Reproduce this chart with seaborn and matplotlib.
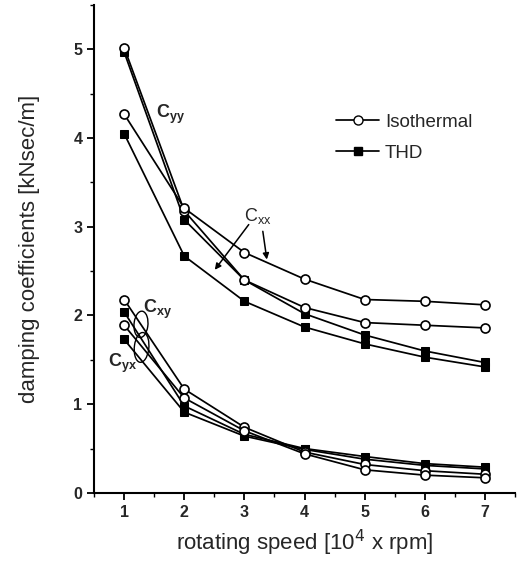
import matplotlib
matplotlib.use("Agg")
import matplotlib.pyplot as plt
import seaborn as sns
import numpy as np
import pandas as pd
from matplotlib.lines import Line2D
from matplotlib.patches import Ellipse

sns.set_theme(style="ticks")
plt.rcParams['font.family'] = ['Liberation Sans', 'DejaVu Sans']

speed = [1, 2, 3, 4, 5, 6, 7]

cyy_iso = [5.02, 3.18, 2.40, 2.09, 1.92, 1.89, 1.86]
cyy_thd = [4.97, 3.08, 2.40, 2.02, 1.78, 1.60, 1.47]
cxx_iso = [4.27, 3.21, 2.71, 2.41, 2.18, 2.16, 2.12]
cxx_thd = [4.05, 2.67, 2.16, 1.87, 1.68, 1.53, 1.42]
cxy_iso = [2.18, 1.17, 0.74, 0.46, 0.32, 0.25, 0.21]
cxy_thd = [2.04, 0.98, 0.66, 0.50, 0.41, 0.33, 0.29]
cyx_iso = [1.89, 1.07, 0.70, 0.44, 0.26, 0.20, 0.17]
cyx_thd = [1.73, 0.91, 0.64, 0.49, 0.38, 0.31, 0.27]

iso_series = [cyy_iso, cxx_iso, cxy_iso, cyx_iso]
thd_series = [cyy_thd, cxx_thd, cxy_thd, cyx_thd]

fig = plt.figure(figsize=(5.17, 5.62), dpi=100)
ax = fig.add_axes([0.182, 0.123, 0.814, 0.868])

for vals in thd_series:
    sns.lineplot(x=speed, y=vals, ax=ax, color='black', lw=1.25,
                 marker='s', markersize=5.5, markerfacecolor='black',
                 markeredgecolor='black', zorder=2)
for vals in iso_series:
    sns.lineplot(x=speed, y=vals, ax=ax, color='black', lw=1.25,
                 marker='o', markersize=6.5, markerfacecolor='white',
                 markeredgecolor='black', markeredgewidth=1.2, zorder=3)

ax.set_xlim(0.5, 7.5)
ax.set_ylim(0, 5.5)
ax.set_xticks([1, 2, 3, 4, 5, 6, 7])
ax.set_xticks(np.arange(0.5, 7.6, 0.5), minor=True)
ax.set_yticks([0, 1, 2, 3, 4, 5])
ax.set_yticks(np.arange(0, 5.6, 0.5), minor=True)
ax.tick_params(axis='both', which='major', direction='out', length=5, width=1.3,
               labelsize=11.5, color='black')
ax.tick_params(axis='both', which='minor', direction='out', length=3, width=1.0, color='black')
for lab in ax.get_xticklabels() + ax.get_yticklabels():
    lab.set_fontweight('bold')
sns.despine(ax=ax)
for sp in ['left', 'bottom']:
    ax.spines[sp].set_linewidth(1.5)
    ax.spines[sp].set_color('black')

ax.set_xlabel('rotating speed [10$^4$ x rpm]', fontsize=16, labelpad=6)
ax.set_ylabel('damping coefficients [kNsec/m]', fontsize=16, labelpad=24)

# annotations
ax.text(1.77, 4.27, r'C$_{\mathregular{yy}}$', fontsize=13, fontweight='bold', ha='center', va='center')
ax.text(3.22, 3.12, r'C$_{\mathregular{xx}}$', fontsize=13, ha='center', va='center')
ax.annotate('', xy=(2.48, 2.49), xytext=(3.1, 3.05),
            arrowprops=dict(arrowstyle='-|>', color='black', lw=1.1, mutation_scale=9))
ax.annotate('', xy=(3.38, 2.6), xytext=(3.3, 2.98),
            arrowprops=dict(arrowstyle='-|>', color='black', lw=1.1, mutation_scale=9))
ax.text(1.55, 2.07, r'C$_{\mathregular{xy}}$', fontsize=13, fontweight='bold', ha='center', va='center')
ax.text(0.98, 1.46, r'C$_{\mathregular{yx}}$', fontsize=13, fontweight='bold', ha='center', va='center')
ax.add_patch(Ellipse((1.28, 1.90), 0.23, 0.30, angle=-12, fill=False, edgecolor='black', lw=1.0))
ax.add_patch(Ellipse((1.29, 1.64), 0.24, 0.34, angle=-12, fill=False, edgecolor='black', lw=1.0))

handles = [
    Line2D([0], [0], color='black', lw=1.25, marker='o', markersize=6.5,
           markerfacecolor='white', markeredgecolor='black'),
    Line2D([0], [0], color='black', lw=1.25, marker='s', markersize=5.5,
           markerfacecolor='black', markeredgecolor='black'),
]
ax.legend(handles, ['Isothermal', 'THD'], loc='upper left', bbox_to_anchor=(0.535, 0.812),
          frameon=False, fontsize=13.5, handlelength=2.3, handletextpad=0.3, labelspacing=0.75)

fig.savefig('out.png', dpi=100)
